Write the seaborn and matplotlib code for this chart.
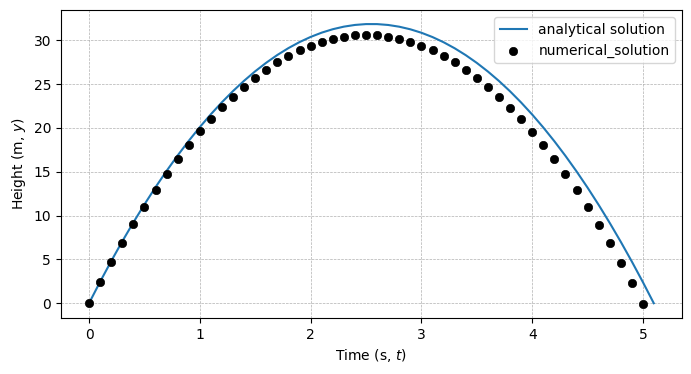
import matplotlib
matplotlib.use("Agg")
import matplotlib.pyplot as plt
import seaborn as sns
import pandas as pd

t_analytical = [0.0, 0.1, 0.2, 0.3, 0.4, 0.5, 0.6, 0.7, 0.8, 0.9,
                1.0, 1.1, 1.2, 1.3, 1.4, 1.5, 1.6, 1.7, 1.8, 1.9,
                2.0, 2.1, 2.2, 2.3, 2.4, 2.5, 2.6, 2.7, 2.8, 2.9,
                3.0, 3.1, 3.2, 3.3, 3.4, 3.5, 3.6, 3.7, 3.8, 3.9,
                4.0, 4.1, 4.2, 4.3, 4.4, 4.5, 4.6, 4.7, 4.8, 4.9,
                5.0, 5.097]
y_analytical = [0.0, 2.451, 4.804, 7.059, 9.215, 11.274, 13.234, 15.097, 16.861, 18.527,
                20.095, 21.565, 22.937, 24.211, 25.386, 26.464, 27.443, 28.325, 29.108, 29.793,
                30.380, 30.869, 31.260, 31.553, 31.747, 31.844, 31.842, 31.743, 31.545, 31.249,
                30.855, 30.363, 29.773, 29.085, 28.298, 27.414, 26.431, 25.351, 24.172, 22.895,
                21.520, 20.047, 18.476, 16.807, 15.039, 13.174, 11.210, 9.149, 6.989, 4.731,
                2.375, 0.0]

t_numerical = [0.0, 0.1, 0.2, 0.3, 0.4, 0.5, 0.6, 0.7, 0.8, 0.9,
               1.0, 1.1, 1.2, 1.3, 1.4, 1.5, 1.6, 1.7, 1.8, 1.9,
               2.0, 2.1, 2.2, 2.3, 2.4, 2.5, 2.6, 2.7, 2.8, 2.9,
               3.0, 3.1, 3.2, 3.3, 3.4, 3.5, 3.6, 3.7, 3.8, 3.9,
               4.0, 4.1, 4.2, 4.3, 4.4, 4.5, 4.6, 4.7, 4.8, 4.9, 5.0]
y_numerical = [0.0, 2.402, 4.706, 6.911, 9.019, 11.029, 12.940, 14.753, 16.468, 18.086,
               19.605, 21.025, 22.348, 23.573, 24.700, 25.728, 26.658, 27.491, 28.225, 28.861,
               29.399, 29.839, 30.181, 30.424, 30.570, 30.618, 30.567, 30.418, 30.171, 29.827,
               29.384, 28.842, 28.203, 27.466, 26.631, 25.697, 24.665, 23.536, 22.308, 20.982,
               19.558, 18.036, 16.416, 14.697, 12.881, 10.967, 8.954, 6.843, 4.634, 2.328, -0.078]

df_a = pd.DataFrame({"t": t_analytical, "y": y_analytical})
df_n = pd.DataFrame({"t": t_numerical, "y": y_numerical})

fig = plt.figure(figsize=(6.91, 3.74), dpi=100)
ax = fig.add_axes([0.088, 0.150, 0.899, 0.823])

sns.lineplot(data=df_a, x="t", y="y", ax=ax, color="#1f77b4", linewidth=1.5,
             label="analytical solution", estimator=None, sort=False)
sns.scatterplot(data=df_n, x="t", y="y", ax=ax, color="black", edgecolor="black",
                s=36, linewidth=0.5, label="numerical_solution", zorder=3)

ax.set_xlabel("Time (s, $t$)")
ax.set_ylabel("Height (m, $y$)")
ax.grid(True, linestyle="--", linewidth=0.5, color="#b0b0b0")
ax.legend(loc="upper right")
ax.margins(x=0.05, y=0.05)

fig.savefig("out.png", dpi=100)
